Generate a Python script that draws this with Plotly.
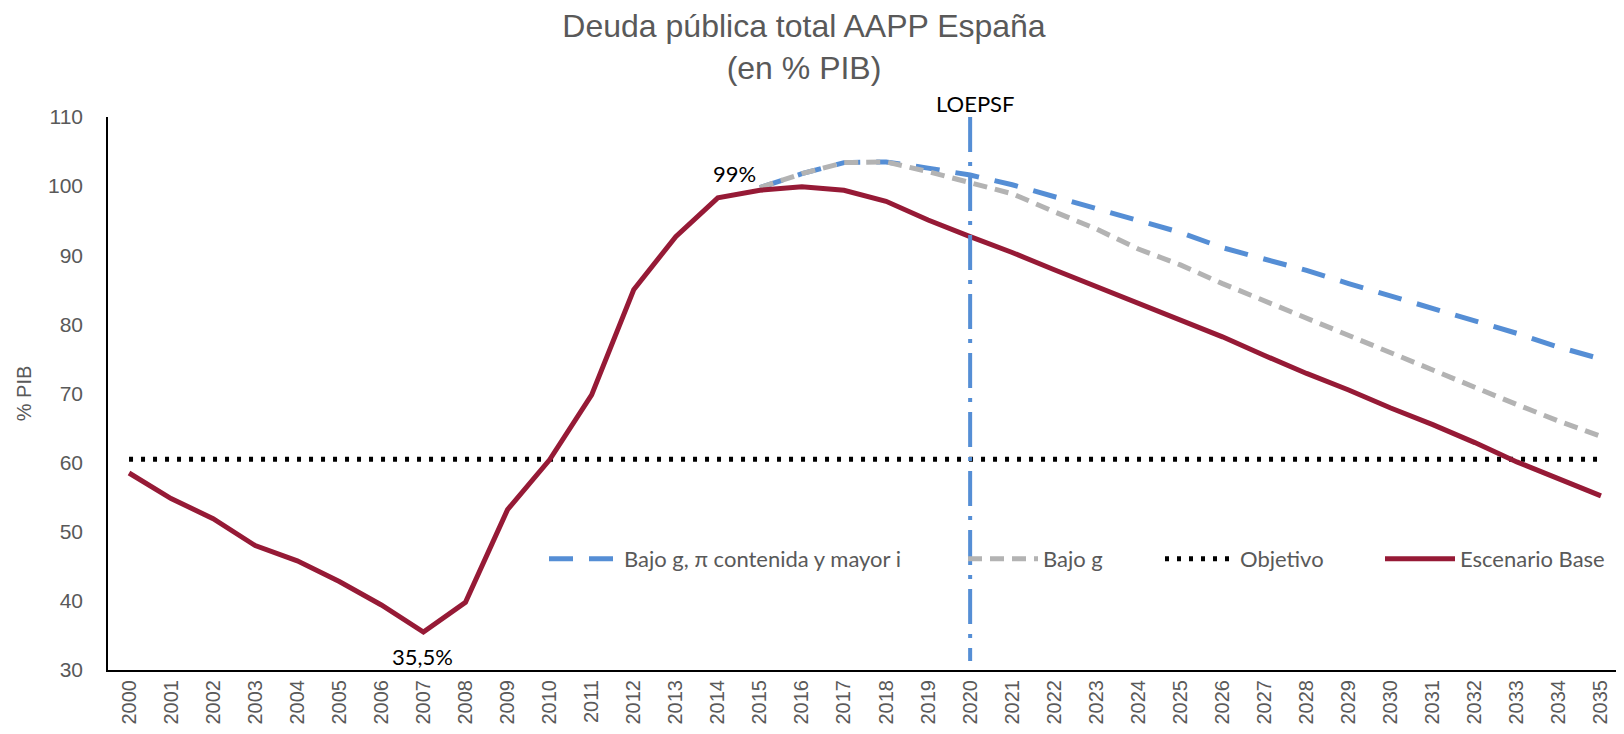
import plotly.graph_objects as go

years = ["2000", "2001", "2002", "2003", "2004", "2005", "2006", "2007", "2008", "2009",
         "2010", "2011", "2012", "2013", "2014", "2015", "2016", "2017", "2018", "2019",
         "2020", "2021", "2022", "2023", "2024", "2025", "2026", "2027", "2028", "2029",
         "2030", "2031", "2032", "2033", "2034", "2035"]

escenario_base = [58.5, 54.8, 51.9, 48.0, 45.8, 42.8, 39.4, 35.5, 39.8, 53.2,
                  60.4, 69.8, 85.0, 92.7, 98.3, 99.4, 99.9, 99.4, 97.8, 95.1,
                  92.7, 90.4, 87.9, 85.5, 83.1, 80.7, 78.2, 75.5, 72.9, 70.5,
                  67.9, 65.5, 62.9, 60.1, 57.7, 55.2]

bajo_g = [None] * 15 + [99.8, 101.8, 103.4, 103.5, 102.1,
                        100.5, 98.9, 96.3, 93.8, 90.9, 88.6, 85.9, 83.4, 80.8, 78.4,
                        75.8, 73.3, 70.8, 68.4, 66.0, 63.8]

bajo_g_pi = [None] * 15 + [99.8, 101.8, 103.4, 103.5, 102.6,
                           101.6, 100.2, 98.5, 96.8, 95.0, 93.3, 91.1, 89.4, 87.8, 85.9,
                           84.1, 82.4, 80.6, 78.7, 76.7, 75.0]

objetivo = [60.5] * 36

loepsf_year = ["2020", "2020"]
loepsf_range = [110.0, 31.3]

annot_text = ["99%", "35,5%", "LOEPSF"]
annot_year = ["2014", "2007", "2020"]
annot_value = [101.8, 31.9]

GRAY_TXT = "#595959"
BLUE = "#558ED5"
GRAY = "#B3B3B3"
RED = "#961A36"

fig = go.Figure()

fig.add_trace(go.Scatter(
    x=years, y=bajo_g_pi, mode="lines", name="Bajo g, π contenida y mayor i",
    line=dict(color=BLUE, width=5, dash="24px,16px"), legend="legend"))
fig.add_trace(go.Scatter(
    x=years, y=bajo_g, mode="lines", name="Bajo g",
    line=dict(color=GRAY, width=5, dash="14px,8px"), legend="legend2"))
fig.add_trace(go.Scatter(
    x=years, y=objetivo, mode="lines", name="Objetivo",
    line=dict(color="#000000", width=5, dash="4px,8px"), legend="legend3"))
fig.add_trace(go.Scatter(
    x=years, y=escenario_base, mode="lines", name="Escenario Base",
    line=dict(color=RED, width=5), legend="legend4"))
fig.add_trace(go.Scatter(
    x=loepsf_year, y=loepsf_range, mode="lines", name="LOEPSF", showlegend=False,
    line=dict(color=BLUE, width=4, dash="35px,10px,4px,10px")))

# the page body has an 8px margin: figure pixel = screen pixel - 8
OFF = 8
W, H = 1614, 718
ml, mr, mt, mb = 100, 0, 117 - OFF, 718 - (670 - OFF)
pw = W - ml - mr
ph = H - mt - mb


def px_x(sx):
    return (sx - OFF - ml) / pw


def px_y(sy):
    return (H - mb - (sy - OFF)) / ph


ITEMW = 70
leg_font = dict(family="Lato, Open Sans, sans-serif", size=22, color=GRAY_TXT)
leg_common = dict(orientation="h", xanchor="left", yanchor="middle", font=leg_font,
                  bgcolor="rgba(0,0,0,0)", borderwidth=0, itemclick=False,
                  itemwidth=ITEMW)

tick_font = dict(family="Liberation Sans, Arial, sans-serif", size=21, color=GRAY_TXT)
xtick_font = dict(family="Liberation Sans, Arial, sans-serif", size=20, color=GRAY_TXT)

fig.update_layout(
    width=W, height=H,
    margin=dict(l=ml, r=mr, t=mt, b=mb, autoexpand=False),
    paper_bgcolor="white", plot_bgcolor="white",
    title=dict(text="Deuda pública total AAPP España<br>(en % PIB)",
               x=(804 - OFF) / W, xanchor="center",
               y=1 - 29 / H, yanchor="top",
               font=dict(family="Liberation Sans, Arial, sans-serif", size=32, color=GRAY_TXT)),
    xaxis=dict(type="category", categoryorder="array", categoryarray=years,
               range=[-0.5, 35.5], showline=True, linecolor="#000000", linewidth=2,
               showgrid=False, zeroline=False, ticks="", tickangle=-90,
               ticklabelstandoff=0, tickfont=xtick_font),
    yaxis=dict(range=[30, 110], tickmode="array", tickvals=[30, 40, 50, 60, 70, 80, 90, 100, 110],
               showline=True, linecolor="#000000", linewidth=1.5,
               showgrid=False, zeroline=False, ticks="", ticklabelstandoff=19,
               tickfont=tick_font,
               title=dict(text="% PIB", standoff=11,
                          font=dict(family="Liberation Sans, Arial, sans-serif", size=20, color=GRAY_TXT))),
    legend=dict(x=px_x(544), y=px_y(559), **leg_common),
    legend2=dict(x=px_x(963), y=px_y(559), **leg_common),
    legend3=dict(x=px_x(1160), y=px_y(559), **leg_common),
    legend4=dict(x=px_x(1380), y=px_y(559), **leg_common),
    showlegend=True,
)

ann_font = dict(family="Lato, Open Sans, sans-serif", size=22, color="#000000")
fig.add_annotation(x=years.index(annot_year[0]), y=annot_value[0], text=annot_text[0],
                   showarrow=False, xshift=17, yanchor="middle", font=ann_font)
fig.add_annotation(x=years.index(annot_year[1]), y=annot_value[1], text=annot_text[1],
                   showarrow=False, xshift=-1, yanchor="middle", font=ann_font)
fig.add_annotation(x=years.index(annot_year[2]), xref="x", y=px_y(104), yref="paper",
                   text=annot_text[2], showarrow=False, xshift=5, yanchor="middle",
                   font=ann_font)

fig.write_html("out.html")
